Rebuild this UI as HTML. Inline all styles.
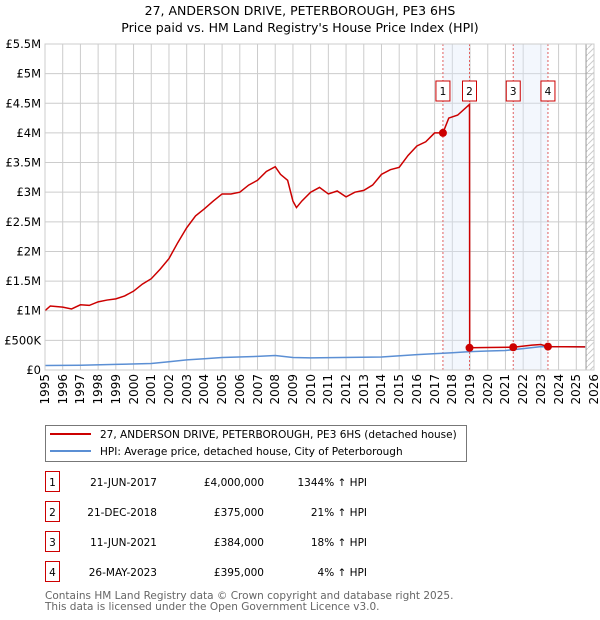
<!DOCTYPE html>
<html><head><meta charset="utf-8"><style>
body{margin:0;background:#fff;font-family:"DejaVu Sans","Liberation Sans",sans-serif;}
#wrap{position:relative;width:600px;height:620px;overflow:hidden;}
svg text{font-family:"DejaVu Sans","Liberation Sans",sans-serif;}
.xl{position:absolute;top:374px;width:14px;writing-mode:vertical-rl;transform:rotate(180deg);font-size:12px;line-height:14px;white-space:nowrap;color:#000;}
</style></head><body>
<div id="wrap">
<svg id="chart" width="600" height="620" xmlns="http://www.w3.org/2000/svg" style="position:absolute;left:0;top:0">
<text x="300" y="15" text-anchor="middle" font-size="12.5">27, ANDERSON DRIVE, PETERBOROUGH, PE3 6HS</text>
<text x="300" y="32" text-anchor="middle" font-size="12.5">Price paid vs. HM Land Registry's House Price Index (HPI)</text>
<g id="grid"></g><g id="bands"></g><g id="series"></g><g id="axes"></g>
<g>
<rect x="45.5" y="425.5" width="421" height="36" fill="#fff" stroke="#777"/>
<line x1="50" y1="434" x2="91" y2="434" stroke="#cc0000" stroke-width="2"/>
<text x="100" y="438" font-size="10.5">27, ANDERSON DRIVE, PETERBOROUGH, PE3 6HS (detached house)</text>
<line x1="50" y1="451" x2="91" y2="451" stroke="#5b8fd4" stroke-width="2"/>
<text x="100" y="455" font-size="10.5">HPI: Average price, detached house, City of Peterborough</text>
</g>
<g id="table" font-size="10.5"></g>
<text x="45" y="599" font-size="10.5" fill="#666">Contains HM Land Registry data © Crown copyright and database right 2025.</text>
<text x="45" y="610" font-size="10.5" fill="#666">This data is licensed under the Open Government Licence v3.0.</text>
</svg>
<div id="xlabels"></div>
</div>
<script>
const yearTicks=[1995,1996,1997,1998,1999,2000,2001,2002,2003,2004,2005,2006,2007,2008,2009,2010,2011,2012,2013,2014,2015,2016,2017,2018,2019,2020,2021,2022,2023,2024,2025,2026];
const yTickValues=[0,500000,1000000,1500000,2000000,2500000,3000000,3500000,4000000,4500000,5000000,5500000];
const yTickLabels=["£0","£500K","£1M","£1.5M","£2M","£2.5M","£3M","£3.5M","£4M","£4.5M","£5M","£5.5M"];
const redT=[1995,1995.3,1996,1996.5,1997,1997.5,1998,1998.5,1999,1999.5,2000,2000.5,2001,2001.5,2002,2002.5,2003,2003.5,2004,2004.5,2005,2005.5,2006,2006.5,2007,2007.5,2008,2008.3,2008.7,2009,2009.2,2009.5,2010,2010.5,2011,2011.5,2012,2012.5,2013,2013.5,2014,2014.5,2015,2015.5,2016,2016.5,2017,2017.47,2017.8,2018.3,2018.97,2018.98,2020,2021.44,2022.5,2023,2023.4,2025.5];
const redV=[1.0,1.08,1.06,1.03,1.1,1.09,1.15,1.18,1.2,1.25,1.33,1.45,1.54,1.7,1.88,2.15,2.4,2.6,2.72,2.85,2.97,2.97,3.0,3.12,3.2,3.35,3.43,3.3,3.2,2.85,2.74,2.85,3.0,3.08,2.97,3.02,2.92,3.0,3.03,3.12,3.3,3.38,3.42,3.62,3.78,3.85,4.0,4.0,4.25,4.3,4.48,0.375,0.38,0.384,0.42,0.43,0.395,0.39];
const hpiT=[1995,1997,1999,2001,2002,2003,2004,2005,2007,2008,2009,2010,2014,2016,2018,2019,2020,2021,2022,2023,2025.5];
const hpiV=[75,80,95,110,140,170,190,210,230,245,210,205,220,260,290,310,320,330,360,395,390];
const saleDates=["21-JUN-2017","21-DEC-2018","11-JUN-2021","26-MAY-2023"];
const saleT=[2017.47,2018.97,2021.44,2023.4];
const salePrice=[4000000,375000,384000,395000];
const salePriceLabel=["£4,000,000","£375,000","£384,000","£395,000"];
const salePct=["1344% ↑ HPI","21% ↑ HPI","18% ↑ HPI","4% ↑ HPI"];
const NS="http://www.w3.org/2000/svg";
const X0=45,X1=594,Y0=370,Y1=44;
const xs=t=>X0+(t-1995)/(2026-1995)*(X1-X0);
const ys=v=>Y0-v/5500000*(Y0-Y1);
function mk(tag,attrs,parent){const e=document.createElementNS(NS,tag);for(const k in attrs)e.setAttribute(k,attrs[k]);parent.appendChild(e);return e;}
const grid=document.getElementById('grid'),bands=document.getElementById('bands'),series=document.getElementById('series'),axes=document.getElementById('axes'),table=document.getElementById('table');
const xlabels=document.getElementById('xlabels');
yearTicks.forEach(y=>{const l=mk('line',{x1:xs(y),x2:xs(y),y1:Y1,y2:Y0,stroke:'#ccc'},grid);


const d=document.createElement('div');d.className='xl';d.style.left=(xs(y)-7)+'px';d.textContent=y;


xlabels.appendChild(d);});
yTickValues.forEach((v,i)=>{const l=mk('line',{x1:X0,x2:X1,y1:ys(v),y2:ys(v),stroke:'#ccc'},grid);


const t=mk('text',{x:X0-4,y:ys(v)+4,'text-anchor':'end','font-size':'11.5'},axes);t.textContent=yTickLabels[i];

});
const defs=mk('defs',{},bands);const p=mk('pattern',{id:'hatch',width:6,height:6,patternUnits:'userSpaceOnUse'},defs);
mk('path',{d:'M0,6 L6,0',stroke:'#ccc','stroke-width':1},p);
const hr=mk('rect',{x:xs(2025.55),y:Y1,width:X1-xs(2025.55),height:Y0-Y1,fill:'url(#hatch)'},bands);


mk('line',{x1:xs(2025.55),x2:xs(2025.55),y1:Y1,y2:Y0,stroke:'#999'},bands);
[[0,1],[2,3]].forEach(([a,b])=>{const r=mk('rect',{x:xs(saleT[a]),y:Y1,width:xs(saleT[b])-xs(saleT[a]),height:Y0-Y1,fill:'#dde8f8','fill-opacity':0.35},bands);

});
saleT.forEach((t,i)=>{const l=mk('line',{x1:xs(t),x2:xs(t),y1:Y1,y2:Y0,stroke:'#e06060','stroke-dasharray':'2,2'},bands);


const g=mk('g',{},bands);


mk('rect',{x:xs(t)-7,y:81,width:14,height:20,fill:'#fff',stroke:'#cc0000'},g);
const tx=mk('text',{x:xs(t),y:95,'text-anchor':'middle','font-size':'10.5'},g);tx.textContent=i+1;});
const hp=mk('polyline',{points:hpiT.map((t,i)=>xs(t)+','+ys(hpiV[i]*1000)).join(' '),fill:'none',stroke:'#5b8fd4','stroke-width':1.5},series);


const rp=mk('polyline',{points:redT.map((t,i)=>xs(t)+','+ys(redV[i]*1e6)).join(' '),fill:'none',stroke:'#cc0000','stroke-width':1.5},series);


saleT.forEach((t,i)=>{const c=mk('circle',{cx:xs(t),cy:ys(salePrice[i]),r:4,fill:'#cc0000'},series);

});
mk('rect',{x:X0,y:Y1,width:X1-X0,height:Y0-Y1,fill:'none',stroke:'#ccc'},axes);
saleDates.forEach((d,i)=>{const y=483+i*30;const g=mk('g',{},table);


mk('rect',{x:45.5,y:y-11.5,width:14,height:20,fill:'#fff',stroke:'#cc0000'},g);
let t=mk('text',{x:52.5,y:y+3,'text-anchor':'middle'},g);t.textContent=i+1;
t=mk('text',{x:157,y:y+3,'text-anchor':'end'},g);t.textContent=d;
t=mk('text',{x:264,y:y+3,'text-anchor':'end'},g);t.textContent=salePriceLabel[i];
t=mk('text',{x:367,y:y+3,'text-anchor':'end'},g);t.textContent=salePct[i];});
</script>
</body></html>
